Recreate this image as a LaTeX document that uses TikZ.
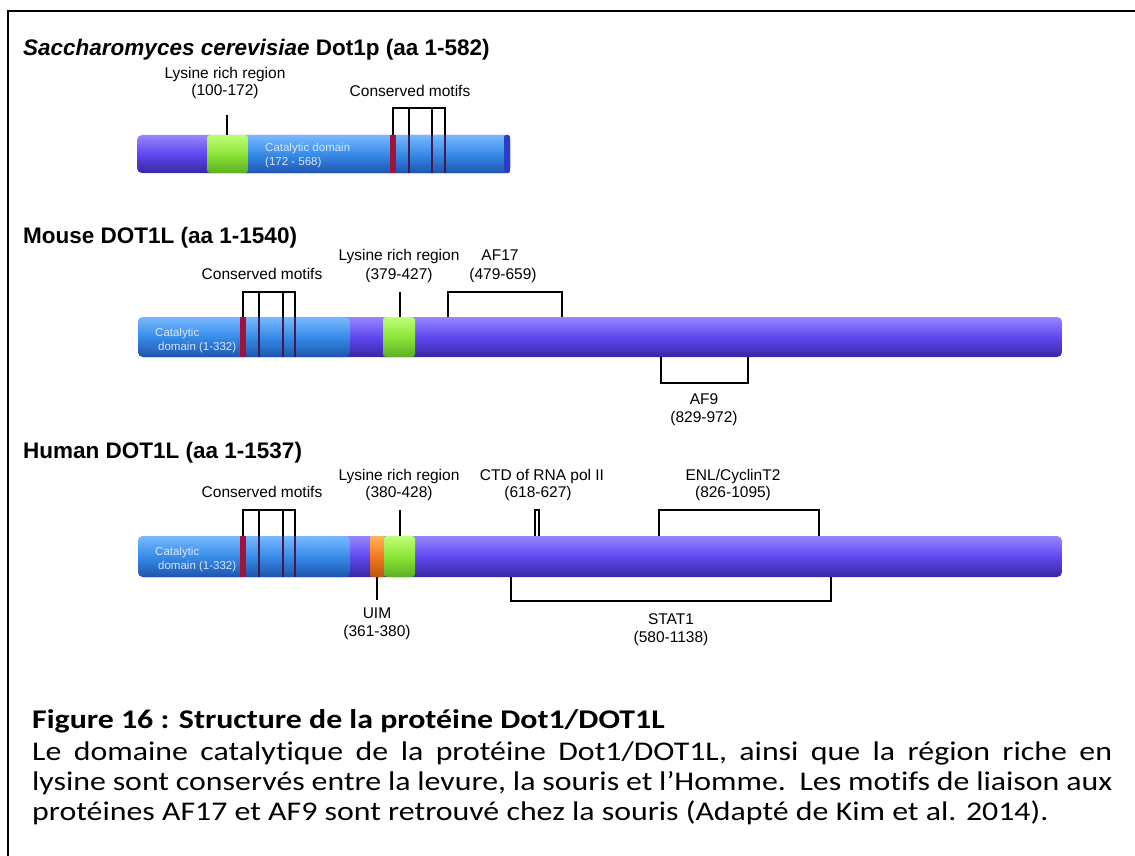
\documentclass[tikz,border=0pt]{standalone}
\usepackage{fontspec}
\setmainfont{Liberation Sans}
\newfontfamily\capfont[FakeStretch=1.18, Ligatures=NoCommon]{Carlito}
\usepackage{tikz}

\definecolor{purpletop}{RGB}{150,135,255}
\definecolor{protpurple}{RGB}{95,72,240}
\definecolor{purplebot}{RGB}{55,40,160}
\definecolor{bluetop}{RGB}{120,185,255}
\definecolor{protblue}{RGB}{55,140,232}
\definecolor{bluebot}{RGB}{30,85,175}
\definecolor{greentop}{RGB}{190,255,120}
\definecolor{protgreen}{RGB}{140,228,55}
\definecolor{greenbot}{RGB}{95,175,35}
\definecolor{orangetop}{RGB}{255,180,90}
\definecolor{protorange}{RGB}{242,120,30}
\definecolor{orangebot}{RGB}{190,85,20}
\definecolor{motifred}{RGB}{160,20,60}
\definecolor{motifdark}{RGB}{70,25,75}
\definecolor{cattext}{RGB}{215,230,255}
\definecolor{capend}{RGB}{45,60,200}

\begin{document}
\begin{tikzpicture}[x=1pt, y=-1pt,
  purplebar/.style={rounded corners=5pt, top color=purpletop, bottom color=purplebot, middle color=protpurple},
  bluebar/.style={rounded corners=5pt, top color=bluetop, bottom color=bluebot, middle color=protblue},
  greenbox/.style={rounded corners=3pt, top color=greentop, bottom color=greenbot, middle color=protgreen},
  orangebox/.style={rounded corners=2pt, top color=orangetop, bottom color=orangebot, middle color=protorange},
  redmark/.style={fill=motifred},
  darkmark/.style={draw=motifdark, line width=2pt},
  brk/.style={draw=black, line width=1.6pt},
  lab/.style={font=\fontsize{15.5}{17}\selectfont, inner sep=0pt, text height=11pt, text depth=3pt},
  ttl/.style={font=\fontsize{22.5}{26}\selectfont\bfseries, anchor=base west, inner sep=0pt},
  cat/.style={font=\fontsize{11.5}{13}\selectfont, text=cattext, anchor=base west, inner sep=0pt},
  capline/.style={font=\capfont\fontsize{27}{30}\selectfont, anchor=base west, inner sep=0pt}]

  \useasboundingbox (0,0) rectangle (1135,856);
  \fill[white] (0,0) rectangle (1135,856);

  %% frame
  \draw[line width=2pt] (8,856) -- (8,11) -- (1135,11);

  %% ---------------- yeast Dot1p
  \node[ttl] (ttlyeast) at (23,56) {\textit{Saccharomyces cerevisiae} Dot1p (aa 1-582)};

  \shade[purplebar] (137,135) rectangle (510,173);
  \shade[bluebar] (240,135) rectangle (510,173);
  \fill[capend, rounded corners=2pt] (504,135) rectangle (510,173);
  \shade[greenbox] (207,135) rectangle (248,173);
  \node[cat] (catyeast) at (265,151) {Catalytic domain};
  \node[cat] (catyeastb) at (265,165) {(172 - 568)};

  \fill[redmark] (390,135) rectangle (396,173);
  \foreach \mx in {409,432,445} \draw[darkmark] (\mx,135) -- (\mx,173);
  \draw[brk] (393,135) -- (393,108) -- (445,108) -- (445,135);
  \draw[brk] (409,108) -- (409,135);
  \draw[brk] (432,108) -- (432,135);
  \draw[brk] (227,115) -- (227,135); % lysine

  \node[lab] (lysyeast) at (225,75) {Lysine rich region};
  \node[lab] (lysyeastb) at (225,92) {(100-172)};
  \node[lab] (motyeast) at (410,93) {Conserved motifs};

  %% ---------------- mouse DOT1L
  \node[ttl] (ttlmouse) at (23,243) {Mouse DOT1L (aa 1-1540)};

  \shade[purplebar] (138,317) rectangle (1062,357);
  \shade[bluebar] (138,317) rectangle (350,357);
  \shade[greenbox] (383,317) rectangle (415,357);
  \node[cat] (catmouse) at (155,336) {Catalytic};
  \node[cat] (catmouseb) at (158,350) {domain (1-332)};

  \fill[redmark] (240,317) rectangle (246,357);
  \foreach \mx in {259,283,295} \draw[darkmark] (\mx,317) -- (\mx,357);
  \draw[brk] (243,317) -- (243,292) -- (295,292) -- (295,317);
  \draw[brk] (259,292) -- (259,317);
  \draw[brk] (283,292) -- (283,317);
  \draw[brk] (400,292) -- (400,317); % lysine
  \draw[brk] (448,317) -- (448,292) -- (562,292) -- (562,317); % AF17
  \draw[brk] (661,357) -- (661,383) -- (748,383) -- (748,357); % AF9

  \node[lab] (motmouse) at (262,275) {Conserved motifs};
  \node[lab] (lysmouse) at (399,256) {Lysine rich region};
  \node[lab] (lysmouseb) at (399,275) {(379-427)};
  \node[lab] (afmouse) at (500,256) {AF17};
  \node[lab] (afmouseb) at (503,275) {(479-659)};
  \node[lab] (afnine) at (704,400) {AF9};
  \node[lab] (afnineb) at (704,418) {(829-972)};

  %% ---------------- human DOT1L
  \node[ttl] (ttlhuman) at (23,458) {Human DOT1L (aa 1-1537)};

  \shade[purplebar] (138,536) rectangle (1062,577);
  \shade[bluebar] (138,536) rectangle (350,577);
  \shade[orangebox] (370,536) rectangle (385,577);
  \shade[greenbox] (384,536) rectangle (415,577);
  \node[cat] (cathuman) at (155,555) {Catalytic};
  \node[cat] (cathumanb) at (158,569) {domain (1-332)};

  \fill[redmark] (240,536) rectangle (246,577);
  \foreach \mx in {259,283,295} \draw[darkmark] (\mx,536) -- (\mx,577);
  \draw[brk] (243,536) -- (243,510) -- (295,510) -- (295,536);
  \draw[brk] (259,510) -- (259,536);
  \draw[brk] (283,510) -- (283,536);
  \draw[brk] (400,510) -- (400,536); % lysine
  \draw[line width=1.2pt] (535,536) -- (535,510) -- (539,510) -- (539,536); % CTD
  \draw[brk] (659,536) -- (659,510) -- (819,510) -- (819,536); % ENL
  \draw[brk] (377,577) -- (377,600); % UIM
  \draw[brk] (511,577) -- (511,601) -- (831,601) -- (831,577); % STAT1

  \node[lab] (mothuman) at (262,493) {Conserved motifs};
  \node[lab] (lyshuman) at (399,476) {Lysine rich region};
  \node[lab] (lyshumanb) at (399,493) {(380-428)};
  \node[lab] (ctd) at (542,476) {CTD of RNA pol II};
  \node[lab] (ctdb) at (538,493) {(618-627)};
  \node[lab] (enl) at (733,476) {ENL/CyclinT2};
  \node[lab] (enlb) at (733,493) {(826-1095)};
  \node[lab] (uim) at (377,614) {UIM};
  \node[lab] (uimb) at (377,632) {(361-380)};
  \node[lab] (stat) at (671,620) {STAT1};
  \node[lab] (statb) at (671,638) {(580-1138)};

  %% ---------------- caption
  \node[capline, font=\capfont\fontsize{27}{30}\selectfont\bfseries] (captitle) at (32,728)
    {Figure 16 : Structure de la protéine Dot1/DOT1L};
  \node[capline] (capa) at (32,760)
    {\makebox[1080pt][s]{Le domaine catalytique de la protéine Dot1/DOT1L, ainsi que la région riche en}};
  \node[capline] (capb) at (32,790)
    {\makebox[1080pt][s]{lysine sont conservés entre la levure, la souris et l’Homme.\ \ Les motifs de liaison aux}};
  \node[capline] (capc) at (32,820)
    {protéines AF17 et AF9 sont retrouvé chez la souris (Adapté de Kim et al. 2014).};
\end{tikzpicture}
\end{document}
